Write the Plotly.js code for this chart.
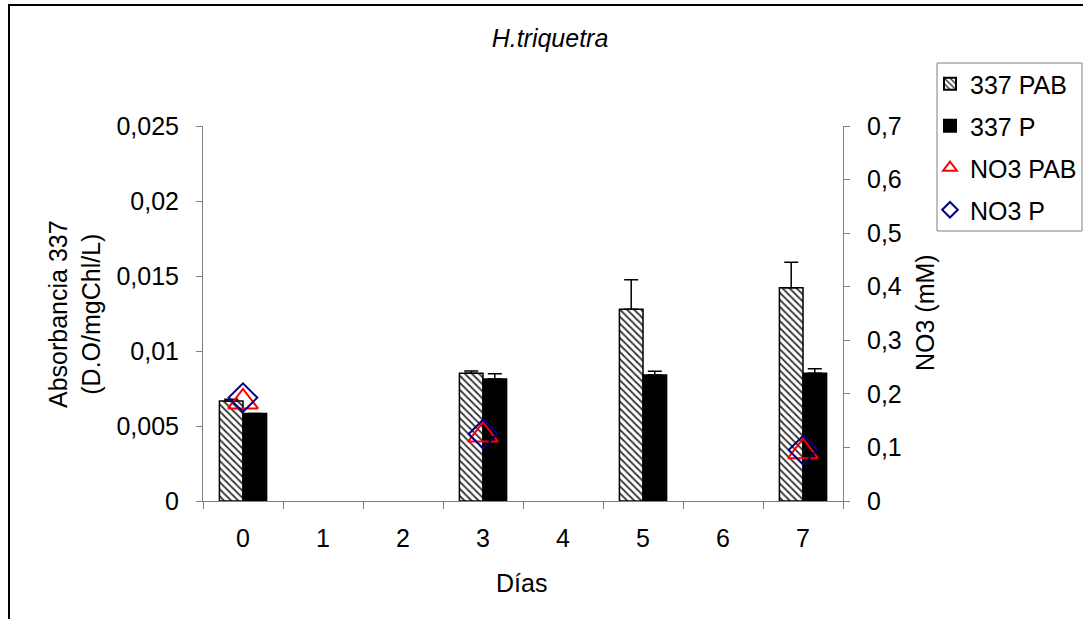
<!DOCTYPE html>
<html>
<head>
<meta charset="utf-8">
<script src="https://cdn.plot.ly/plotly-3.0.1.min.js"></script>
<style>
  html, body { margin: 0; padding: 0; overflow: hidden; background: #fff; }
  #wrap { position: relative; width: 1083px; height: 619px; overflow: hidden; }
  #chart { position: absolute; left: 0; top: 0; width: 1083px; height: 619px; }
  #frame { position: absolute; left: 8px; top: 4px; width: 1200px; height: 800px;
           border: 2px solid #000; pointer-events: none; }
</style>
</head>
<body>
<div id="wrap">
  <div id="chart"></div>
  <div id="frame"></div>
</div>
<script>
// ---- data ----
const days = ['0', '1', '2', '3', '4', '5', '6', '7'];
const abs337PAB = [0.00667, null, null, 0.00851, null, 0.01278, null, 0.01422];
const abs337PABerr = [0.00011, 0, 0, 0.00015, 0, 0.00197, 0, 0.0017];
const abs337P = [0.00584, null, null, 0.00813, null, 0.0084, null, 0.00851];
const abs337Perr = [0, 0, 0, 0.00036, 0, 0.00025, 0, 0.0003];
const no3PAB = [0.185, null, null, 0.123, null, null, null, 0.092];
const no3P = [0.193, null, null, 0.125, null, null, null, 0.095];
const zeros = [0, 0, 0, 0, 0, 0, 0, 0];

const leftTickVals = [0, 0.005, 0.01, 0.015, 0.02, 0.025];
const leftTickText = ['0', '0,005', '0,01', '0,015', '0,02', '0,025'];
const rightTickVals = [0, 0.1, 0.2, 0.3, 0.4, 0.5, 0.6, 0.7];
const rightTickText = ['0', '0,1', '0,2', '0,3', '0,4', '0,5', '0,6', '0,7'];

const seriesNames = ['337 PAB', '337 P', 'NO3 PAB', 'NO3 P'];
const chartTitle = 'H.triquetra';
const xTitle = 'Días';
const yTitle = 'Absorbancia 337<br>(D.O/mgChl/L)';
const y2Title = 'NO3 (mM)';

const FONT = 'Liberation Sans, Arial, sans-serif';
const FS = 25;

const traces = [
  {
    type: 'bar', name: seriesNames[0], x: days, y: abs337PAB, legend: 'legend',
    marker: {
      color: '#ffffff',
      line: { color: '#000', width: 1.5 },
      pattern: { shape: '\\', fgcolor: '#333', bgcolor: '#fff', size: 5, solidity: 0.35 }
    },
    error_y: { type: 'data', symmetric: false, array: abs337PABerr, arrayminus: zeros,
               color: '#000', thickness: 1.5, width: 7 }
  },
  {
    type: 'bar', name: seriesNames[1], x: days, y: abs337P, legend: 'legend2',
    marker: { color: '#000', line: { color: '#000', width: 1.5 } },
    error_y: { type: 'data', symmetric: false, array: abs337Perr, arrayminus: zeros,
               color: '#000', thickness: 1.5, width: 7 }
  },
  {
    type: 'scatter', mode: 'markers', name: seriesNames[2], x: days, y: no3PAB, yaxis: 'y2',
    legend: 'legend3',
    marker: { symbol: 'triangle-up-open', size: 26, color: '#ff0000', line: { width: 2, color: '#ff0000' } }
  },
  {
    type: 'scatter', mode: 'markers', name: seriesNames[3], x: days, y: no3P, yaxis: 'y2',
    legend: 'legend4',
    marker: { symbol: 'diamond-open', size: 22, color: '#000080', line: { width: 2, color: '#000080' } }
  }
];

const L = 203, R = 843, T = 126, B = 501, W = 1083, H = 619;
const px2x = p => (p - L) / (R - L);
const px2y = p => (B - p) / (B - T);

function legendAt(ypx) {
  return {
    x: px2x(930), y: px2y(ypx), xanchor: 'left', yanchor: 'middle',
    xref: 'paper', yref: 'paper',
    bgcolor: 'rgba(0,0,0,0)', borderwidth: 0, itemsizing: 'constant',
    font: { family: FONT, size: FS, color: '#000' }
  };
}

const layout = {
  width: W, height: H,
  margin: { l: L, r: W - R, t: T, b: H - B, pad: 0, autoexpand: false },
  paper_bgcolor: 'rgba(0,0,0,0)', plot_bgcolor: 'rgba(0,0,0,0)',
  font: { family: FONT, size: FS, color: '#000' },
  barmode: 'group', bargap: 0.41, bargroupgap: 0,
  showlegend: true,
  title: { text: '<i>' + chartTitle + '</i>', font: { family: FONT, size: FS, color: '#000' },
           x: px2x(550), xref: 'paper', xanchor: 'center', y: 1 - 38 / H, yref: 'container', yanchor: 'middle',
           automargin: false },
  xaxis: {
    type: 'category', categoryorder: 'array', categoryarray: days,
    range: [-0.5, 7.5], fixedrange: true, automargin: false,
    showline: true, linecolor: '#808080', linewidth: 1,
    ticks: 'outside', tickson: 'boundaries', ticklen: 7, tickcolor: '#808080', tickwidth: 1,
    showgrid: false, zeroline: false,
    tickfont: { family: FONT, size: FS, color: '#000' }, ticklabelstandoff: 15
  },
  yaxis: {
    range: [0, 0.025], tickvals: leftTickVals, ticktext: leftTickText, automargin: false,
    showline: true, linecolor: '#808080', linewidth: 1,
    ticks: 'outside', ticklen: 6, tickcolor: '#808080', tickwidth: 1,
    showgrid: false, zeroline: false,
    tickfont: { family: FONT, size: FS, color: '#000' }, ticklabelstandoff: 12
  },
  yaxis2: {
    overlaying: 'y', side: 'right', automargin: false,
    range: [0, 0.7], tickvals: rightTickVals, ticktext: rightTickText,
    showline: true, linecolor: '#808080', linewidth: 1,
    ticks: 'outside', ticklen: 6, tickcolor: '#808080', tickwidth: 1,
    showgrid: false, zeroline: false,
    tickfont: { family: FONT, size: FS, color: '#000' }, ticklabelstandoff: 12
  },
  legend: legendAt(84),
  legend2: legendAt(126),
  legend3: legendAt(168),
  legend4: legendAt(210),
  shapes: [
    { type: 'rect', xref: 'paper', yref: 'paper',
      x0: px2x(937), x1: px2x(1082), y0: px2y(231), y1: px2y(63),
      line: { color: '#808080', width: 1 }, fillcolor: 'rgba(0,0,0,0)' }
  ],
  annotations: [
    { text: xTitle, xref: 'paper', yref: 'paper', x: px2x(521), y: px2y(583),
      xanchor: 'center', yanchor: 'middle', showarrow: false,
      font: { family: FONT, size: FS, color: '#000' } },
    { text: yTitle, xref: 'paper', yref: 'paper', x: px2x(74), y: px2y(314),
      xanchor: 'center', yanchor: 'middle', showarrow: false, textangle: -90,
      font: { family: FONT, size: FS, color: '#000' } },
    { text: y2Title, xref: 'paper', yref: 'paper', x: px2x(925), y: px2y(313),
      xanchor: 'center', yanchor: 'middle', showarrow: false, textangle: -90,
      font: { family: FONT, size: FS, color: '#000' } }
  ]
};

Plotly.newPlot('chart', traces, layout, { displayModeBar: false, staticPlot: true });
</script>
</body>
</html>
